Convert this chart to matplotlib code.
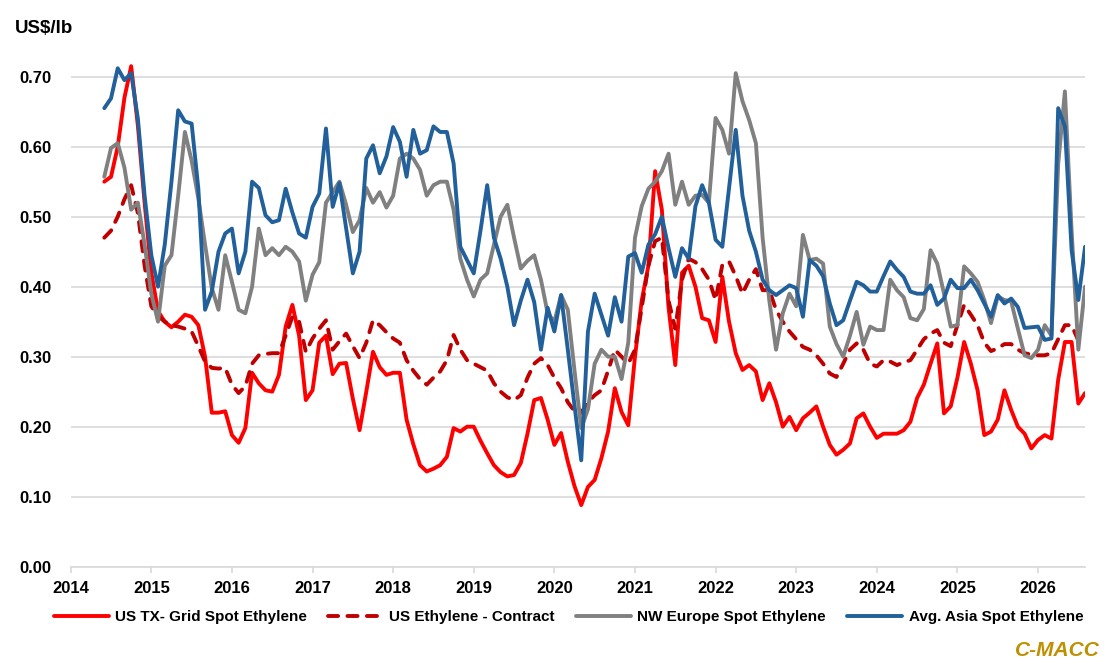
import matplotlib.pyplot as plt
import numpy as np
import pandas as pd

# monthly prices, US$/lb, Jun 2014 .. Aug 2026
us_spot = [
    .550, .557, .600, .670, .715, .630, .520,
    .420, .365, .350, .342, .350, .360, .357, .345, .300, .220, .220, .222,
    .188, .177, .198, .277, .262, .252, .250, .274, .343, .374, .330, .238,
    .252, .320, .330, .275, .290, .291, .240, .195, .250, .307, .285, .274,
    .277, .277, .210, .175, .145, .136, .140, .145, .157, .198, .193, .200,
    .200, .180, .162, .145, .135, .129, .131, .148, .190, .238, .241, .210,
    .174, .191, .150, .115, .088, .114, .124, .155, .193, .255, .221, .202,
    .300, .380, .430, .565, .510, .370, .288, .420, .430, .400, .355, .352,
    .321, .414, .350, .305, .281, .288, .279, .238, .262, .235, .200, .214,
    .195, .212, .220, .229, .200, .174, .160, .167, .176, .212, .219, .200,
    .184, .190, .190, .190, .195, .207, .241, .260, .290, .319, .219, .229,
    .270, .321, .290, .252, .188, .193, .210, .252, .224, .200, .190, .169,
    .181, .188, .183, .267, .321, .321, .233, .248]

us_contract = [
    .470, .480, .500, .525, .545, .505, .430,
    .372, .358, .350, .345, .343, .340, .336, .315, .293, .284, .283, .284,
    .260, .248, .258, .290, .302, .304, .305, .305, .330, .357, .350, .307,
    .326, .340, .352, .310, .322, .333, .315, .298, .320, .352, .345, .335,
    .326, .320, .295, .280, .268, .260, .270, .279, .295, .331, .310, .295,
    .290, .285, .280, .262, .250, .242, .238, .245, .270, .290, .298, .288,
    .270, .255, .235, .222, .220, .235, .245, .252, .280, .310, .300, .290,
    .310, .370, .430, .465, .470, .380, .340, .410, .440, .435, .425, .410,
    .381, .431, .436, .415, .390, .410, .425, .395, .395, .367, .350, .336,
    .325, .314, .310, .302, .290, .276, .271, .290, .310, .319, .310, .290,
    .286, .295, .293, .288, .292, .295, .310, .325, .333, .338, .320, .315,
    .345, .374, .360, .345, .320, .308, .312, .318, .318, .310, .305, .303,
    .302, .302, .305, .325, .345, .345, .323, .326]

nwe_spot = [
    .557, .598, .605, .570, .510, .520, .460,
    .390, .350, .430, .445, .530, .621, .580, .526, .460, .398, .367, .445,
    .407, .367, .362, .400, .483, .445, .455, .445, .457, .450, .436, .380,
    .417, .435, .520, .535, .550, .517, .478, .495, .541, .520, .535, .513,
    .530, .583, .590, .583, .567, .530, .545, .550, .550, .510, .440, .410,
    .386, .410, .419, .460, .500, .517, .470, .426, .437, .445, .410, .362,
    .350, .388, .367, .280, .198, .225, .290, .310, .300, .300, .268, .320,
    .470, .515, .540, .550, .565, .590, .517, .550, .517, .530, .531, .520,
    .641, .624, .590, .705, .665, .638, .605, .470, .380, .310, .362, .390,
    .372, .474, .438, .440, .433, .343, .318, .300, .330, .364, .317, .343,
    .338, .338, .410, .395, .385, .355, .352, .368, .452, .433, .390, .343,
    .345, .429, .419, .407, .381, .348, .386, .381, .379, .340, .302, .298,
    .310, .345, .330, .575, .679, .480, .310, .400]

asia_spot = [
    .655, .669, .712, .695, .705, .640, .530,
    .445, .400, .460, .550, .652, .636, .633, .540, .367, .393, .450, .476,
    .483, .419, .450, .550, .541, .502, .492, .495, .540, .506, .476, .470,
    .514, .533, .626, .514, .548, .483, .419, .450, .583, .602, .562, .586,
    .628, .607, .557, .624, .590, .595, .629, .621, .621, .576, .457, .438,
    .419, .480, .545, .470, .440, .400, .345, .380, .410, .378, .310, .370,
    .336, .388, .310, .230, .152, .336, .390, .360, .330, .385, .350, .443,
    .448, .420, .460, .475, .500, .455, .414, .455, .440, .515, .545, .520,
    .467, .457, .540, .624, .530, .480, .450, .410, .395, .388, .395, .402,
    .398, .357, .438, .430, .415, .376, .345, .352, .380, .407, .402, .393,
    .393, .415, .436, .424, .414, .393, .390, .390, .402, .374, .383, .410,
    .398, .398, .410, .395, .376, .357, .388, .376, .383, .371, .341, .342,
    .343, .324, .326, .655, .629, .452, .381, .457]

labels = ['US TX- Grid Spot Ethylene', 'US Ethylene - Contract',
          'NW Europe Spot Ethylene', 'Avg. Asia Spot Ethylene']
years = list(range(2014, 2027))

months = pd.date_range('2014-06-01', periods=len(us_spot), freq='MS')
x = np.array(months.year + (months.month - 1) / 12.0)

fnt = 'Liberation Sans'
plt.rcParams['font.family'] = [fnt, 'DejaVu Sans']

fig = plt.figure(figsize=(11.17, 6.72), dpi=100)
ax = fig.add_axes([0.0633, 0.1567, 0.9081, 0.7813])

lw = 2.8
ax.plot(x, us_spot, color='#FF0000', lw=lw, solid_joinstyle='round',
        solid_capstyle='round', label=labels[0])
ax.plot(x, us_contract, color='#C00000', lw=lw, dashes=(2.6, 2.4),
        dash_capstyle='round', dash_joinstyle='round', label=labels[1])
ax.plot(x, nwe_spot, color='#808080', lw=lw, solid_joinstyle='round',
        solid_capstyle='round', label=labels[2])
ax.plot(x, asia_spot, color='#21609B', lw=lw, solid_joinstyle='round',
        solid_capstyle='round', label=labels[3])

ax.set_xlim(2014, x[-1])
ax.set_ylim(0, 0.75)
ax.set_xticks(years)
ax.set_xticklabels([str(y) for y in years])
ax.set_yticks(np.arange(0, 0.71, 0.1))
ax.set_yticklabels(['%.2f' % v for v in np.arange(0, 0.71, 0.1)])

for s in ['top', 'right', 'left']:
    ax.spines[s].set_visible(False)
ax.spines['bottom'].set_color('#D9D9D9')
ax.spines['bottom'].set_linewidth(1.2)
ax.grid(axis='y', color='#D9D9D9', lw=1.2)
ax.set_axisbelow(True)

ax.tick_params(axis='x', length=4, width=1.2, color='#D9D9D9', pad=6)
ax.tick_params(axis='y', length=0, pad=14)
for t in ax.get_xticklabels() + ax.get_yticklabels():
    t.set_fontweight('bold')
    t.set_fontsize(12)

fig.text(15 / 1117, 1 - 33 / 672, 'US$/lb', fontsize=13.5, fontweight='bold',
         va='baseline')

leg = fig.legend(*ax.get_legend_handles_labels(), loc='center',
                 bbox_to_anchor=(0.509, 0.082), ncol=4, frameon=False,
                 handlelength=3.6, handletextpad=0.4, columnspacing=1.4,
                 prop={'weight': 'bold', 'size': 11})

fig.text(0.985, 0.0238, 'C-MACC', ha='right', va='baseline', color='#BF9000',
         fontsize=15, fontweight='bold', style='italic')

fig.savefig('out.png', dpi=100)
